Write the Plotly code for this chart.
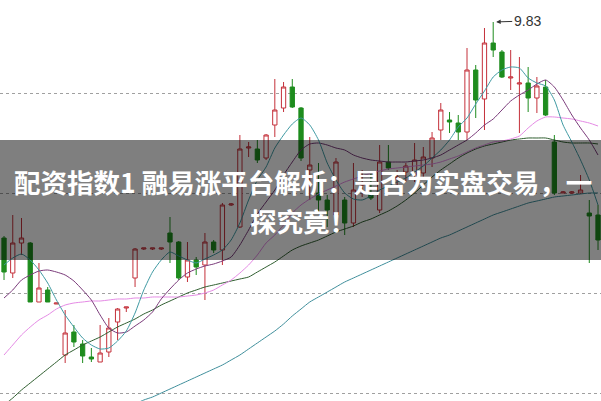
import plotly.graph_objects as go

# ---- data ----
idx = list(range(69))
open_ = [8.75, 8.575, 8.725, 8.725, 8.43, 8.49, 8.42, 8.165, 8.28, 8.22,
         8.155, 8.13, 8.18, 8.33, 8.40, 8.55, 8.695, 8.695, 8.695, 8.775,
         8.73, 8.555, 8.64, 8.615, 8.73, 8.69, 8.915, 8.805, 9.20, 9.195,
         9.15, 9.315, 9.40, 9.505, 9.40, 9.09, 8.975, 8.94, 8.865, 8.94,
         8.825, 9.015, 8.975, 8.89, 9.13, 9.045, 9.08, 9.065, 9.075, 9.15,
         9.29, 9.34, 9.325, 9.28, 9.59, 9.445, 9.725, 9.68, 9.55, 9.52,
         9.525, 9.45, 9.505, 9.23, 8.975, 8.975, 8.975, 8.875, 8.865]
high_ = [8.76, 8.865, 8.85, 8.73, 8.625, 8.505, 8.425, 8.39, 8.315, 8.24,
         8.20, 8.315, 8.35, 8.40, 8.405, 8.70, 8.70, 8.70, 8.70, 8.855,
         8.735, 8.73, 8.655, 8.775, 8.74, 8.925, 8.925, 9.265, 9.23, 9.24,
         9.27, 9.545, 9.53, 9.545, 9.405, 9.255, 9.125, 8.965, 9.15, 8.955,
         9.125, 9.09, 9.075, 9.215, 9.215, 9.09, 9.125, 9.225, 9.205, 9.28,
         9.425, 9.38, 9.365, 9.70, 9.615, 9.80, 9.83, 9.69, 9.69, 9.655,
         9.605, 9.555, 9.54, 9.265, 8.985, 8.985, 9.065, 8.94, 8.915]
low_ = [8.54, 8.55, 8.665, 8.43, 8.43, 8.43, 8.42, 8.125, 8.205, 8.125,
        8.13, 8.13, 8.155, 8.24, 8.38, 8.505, 8.69, 8.69, 8.69, 8.625,
        8.54, 8.53, 8.565, 8.44, 8.675, 8.615, 8.91, 8.80, 9.155, 9.125,
        9.14, 9.255, 9.38, 9.40, 9.135, 8.94, 8.875, 8.805, 8.84, 8.765,
        8.805, 8.955, 8.94, 8.875, 9.09, 9.015, 9.03, 9.03, 9.055, 9.105,
        9.24, 9.275, 9.24, 9.24, 9.35, 9.29, 9.655, 9.55, 9.49, 9.275,
        9.38, 9.375, 9.36, 8.965, 8.975, 8.97, 8.97, 8.625, 8.69]
close_ = [8.58, 8.725, 8.75, 8.43, 8.50, 8.43, 8.425, 8.275, 8.23, 8.16,
          8.145, 8.175, 8.30, 8.395, 8.405, 8.695, 8.70, 8.70, 8.70, 8.73,
          8.55, 8.64, 8.605, 8.73, 8.69, 8.915, 8.92, 9.195, 9.205, 9.14,
          9.265, 9.39, 9.505, 9.405, 9.15, 9.115, 8.94, 8.89, 9.13, 8.825,
          8.99, 9.025, 8.95, 9.13, 9.10, 9.055, 9.11, 9.14, 9.155, 9.25,
          9.39, 9.33, 9.28, 9.59, 9.44, 9.725, 9.69, 9.555, 9.555, 9.525,
          9.45, 9.51, 9.365, 8.975, 8.98, 8.98, 8.99, 8.86, 8.74]

ma5 = [8.615, 8.65, 8.67, 8.64, 8.59, 8.525, 8.44, 8.365, 8.305, 8.25,
       8.215, 8.195, 8.20, 8.235, 8.285, 8.375, 8.49, 8.58, 8.64, 8.68,
       8.66, 8.64, 8.625, 8.645, 8.665, 8.69, 8.74, 8.825, 8.94, 9.04,
       9.105, 9.20, 9.265, 9.32, 9.35, 9.315, 9.24, 9.125, 9.04, 8.975,
       8.945, 8.94, 8.96, 8.99, 9.01, 9.03, 9.05, 9.08, 9.11, 9.15,
       9.19, 9.24, 9.305, 9.35, 9.42, 9.485, 9.555, 9.59, 9.605, 9.60,
       9.55, 9.525, 9.51, 9.44, 9.315, 9.23, 9.14, 9.04, 8.915]
ma10 = [8.45, 8.49, 8.54, 8.565, 8.585, 8.59, 8.58, 8.565, 8.535, 8.49,
        8.44, 8.365, 8.30, 8.275, 8.28, 8.31, 8.34, 8.38, 8.445, 8.495,
        8.54, 8.575, 8.595, 8.61, 8.62, 8.635, 8.655, 8.715, 8.79, 8.87,
        8.93, 8.99, 9.065, 9.13, 9.19, 9.22, 9.225, 9.215, 9.20, 9.19,
        9.165, 9.15, 9.14, 9.135, 9.13, 9.13, 9.13, 9.135, 9.14, 9.15,
        9.165, 9.19, 9.215, 9.24, 9.275, 9.315, 9.345, 9.39, 9.435, 9.465,
        9.49, 9.52, 9.54, 9.505, 9.44, 9.365, 9.30, 9.24, 9.165]
ma20 = [8.165, 8.215, 8.265, 8.305, 8.34, 8.365, 8.395, 8.415, 8.425, 8.43,
        8.435, 8.435, 8.44, 8.445, 8.445, 8.45, 8.45, 8.455, 8.455, 8.455,
        8.455, 8.46, 8.465, 8.475, 8.49, 8.515, 8.54, 8.575, 8.615, 8.665,
        8.725, 8.765, 8.815, 8.875, 8.915, 8.945, 8.97, 8.99, 9.01, 9.03,
        9.045, 9.06, 9.075, 9.085, 9.095, 9.10, 9.105, 9.11, 9.115, 9.12,
        9.13, 9.145, 9.16, 9.18, 9.20, 9.215, 9.23, 9.235, 9.245, 9.26,
        9.30, 9.335, 9.355, 9.355, 9.35, 9.345, 9.335, 9.325, 9.31]
ma30 = [7.915, 7.95, 7.99, 8.025, 8.06, 8.095, 8.13, 8.165, 8.19, 8.215,
        8.235, 8.255, 8.28, 8.305, 8.325, 8.345, 8.37, 8.39, 8.415, 8.435,
        8.455, 8.475, 8.49, 8.505, 8.515, 8.525, 8.535, 8.545, 8.555, 8.58,
        8.605, 8.63, 8.66, 8.69, 8.71, 8.725, 8.74, 8.76, 8.78, 8.795,
        8.81, 8.83, 8.845, 8.865, 8.885, 8.91, 8.94, 8.975, 9.015, 9.055,
        9.09, 9.12, 9.15, 9.175, 9.195, 9.21, 9.22, 9.23, 9.24, 9.245,
        9.25, 9.25, 9.25, 9.24, 9.23, 9.225, 9.225, 9.225, 9.22]
ma60_idx = list(range(15, 69))
ma60 = [7.92, 7.94, 7.955, 7.975, 7.995, 8.015, 8.035, 8.055, 8.075, 8.095,
        8.115, 8.14, 8.165, 8.195, 8.225, 8.255, 8.285, 8.32, 8.36, 8.395,
        8.43, 8.455, 8.48, 8.505, 8.53, 8.55, 8.57, 8.59, 8.61, 8.63,
        8.65, 8.67, 8.69, 8.71, 8.73, 8.75, 8.765, 8.785, 8.805, 8.825,
        8.845, 8.865, 8.88, 8.895, 8.91, 8.925, 8.935, 8.945, 8.955, 8.96,
        8.965, 8.97, 8.975, 8.975]

grid_levels = [7.975, 8.475, 8.975, 9.475]
peak_label = "9.83"
title_line1 = "配资指数1 融易涨平台解析：是否为实盘交易，一"
title_line2 = "探究竟！"

RED = "#c4303a"
GREEN = "#1e8c1e"

fig = go.Figure()
fig.add_trace(go.Candlestick(
    x=idx, open=open_, high=high_, low=low_, close=close_,
    increasing=dict(line=dict(color=RED, width=1), fillcolor="white"),
    decreasing=dict(line=dict(color=GREEN, width=1), fillcolor=GREEN),
    hoverinfo="skip", showlegend=False,
))

line_specs = [
    (ma60_idx, ma60, "#3f8f9c"),
    (idx, ma30, "#2f5e2f"),
    (idx, ma20, "#e58ae5"),
    (idx, ma10, "#7a3a7a"),
    (idx, ma5, "#3f9aa3"),
]
for xs, ys, col in line_specs:
    fig.add_trace(go.Scatter(x=xs, y=ys, mode="lines",
                             line=dict(color=col, width=1, shape="spline", smoothing=0.6),
                             hoverinfo="skip", showlegend=False))

fig.add_annotation(x=56, y=9.83, text=peak_label, showarrow=True,
                   ax=34, ay=-1, arrowhead=2, arrowsize=0.9, arrowwidth=1,
                   arrowcolor="#333333", standoff=3,
                   font=dict(family="Arial, Liberation Sans", size=14, color="#333333"))

# gray banner
fig.add_shape(type="rect", xref="paper", yref="paper",
              x0=0, x1=1, y0=1 - 260 / 401, y1=1 - 140 / 401,
              fillcolor="rgba(0,0,0,0.5)", line=dict(width=0), layer="above")

for txt, ypx in [(title_line1, 181), (title_line2, 220)]:
    fig.add_annotation(x=302.5 / 601, y=1 - ypx / 401, xref="paper", yref="paper",
                       text="<b>" + txt + "</b>", showarrow=False,
                       xanchor="center", yanchor="middle",
                       font=dict(family="Noto Sans CJK SC", size=26.5, color="white"))

fig.update_layout(
    width=601, height=401,
    margin=dict(l=0, r=0, t=0, b=0),
    paper_bgcolor="white", plot_bgcolor="white",
    xaxis=dict(range=[-0.46, 68.34], visible=False, rangeslider=dict(visible=False),
               fixedrange=True),
    yaxis=dict(range=[7.935, 9.94], tickvals=grid_levels, showticklabels=False,
               showgrid=True, gridcolor="#a0a0a0", griddash="dot", gridwidth=1,
               zeroline=False, showline=False, ticks="", fixedrange=True),
    showlegend=False,
)

fig.write_html("out.html", config={"displayModeBar": False, "staticPlot": True},
               post_script="document.body.style.margin='0';document.body.style.overflow='hidden';")
